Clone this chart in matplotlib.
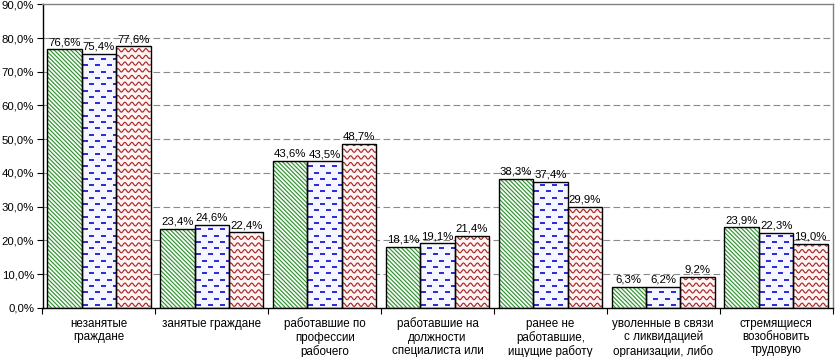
import numpy as np
import matplotlib
matplotlib.use('Agg')
import matplotlib.pyplot as plt
from matplotlib.collections import LineCollection

plt.rcParams['font.family'] = ['Liberation Sans', 'DejaVu Sans']

# данные
categories = ['незанятые\nграждане',
              'занятые граждане',
              'работавшие по\nпрофессии\nрабочего',
              'работавшие на\nдолжности\nспециалиста или',
              'ранее не\nработавшие,\nищущие работу',
              'уволенные в связи\nс ликвидацией\nорганизации, либо',
              'стремящиеся\nвозобновить\nтрудовую']
green_vals = [76.6, 23.4, 43.6, 18.1, 38.3, 6.3, 23.9]
blue_vals = [75.4, 24.6, 43.5, 19.1, 37.4, 6.2, 22.3]
red_vals = [77.6, 22.4, 48.7, 21.4, 29.9, 9.2, 19.0]
yticks = [0, 10, 20, 30, 40, 50, 60, 70, 80, 90]

W, H = 835, 357
fig = plt.figure(figsize=(W / 100, H / 100), dpi=100)
ax = fig.add_axes([42.5 / W, (H - 307.8) / H, 790 / W, 303.5 / H])
ax.set_xlim(-0.5, 6.5)
ax.set_ylim(0, 90)

# размер пикселя в единицах данных
px_x = 7 / 790
px_y = 90 / 303.5

x = np.arange(len(categories))
w = 0.305


def green_pattern(bar):
    x0, h = bar.get_x(), bar.get_height()
    x1 = x0 + bar.get_width()
    run = h / px_y * px_x
    segs = []
    u = x0 - run
    while u < x1:
        segs.append([(u, h), (u + run, 0)])
        u += 4.2 * px_x
    lc = LineCollection(segs, colors='#2f8f2f', linewidths=0.8, zorder=3)
    ax.add_collection(lc)
    lc.set_clip_path(bar)


def blue_pattern(bar):
    x0, h = bar.get_x(), bar.get_height()
    x1 = x0 + bar.get_width()
    segs = []
    yy = 3 * px_y
    row = 0
    while yy < h:
        xx = x0 + (1 + 6 * (row % 2)) * px_x
        while xx < x1:
            segs.append([(xx, yy), (xx + 5 * px_x, yy)])
            xx += 12 * px_x
        yy += 6.3 * px_y
        row += 1
    lc = LineCollection(segs, colors='#1a1ad0', linewidths=1.3, zorder=3)
    ax.add_collection(lc)
    lc.set_clip_path(bar)


def red_pattern(bar):
    x0, h = bar.get_x(), bar.get_height()
    x1 = x0 + bar.get_width()
    xs = np.linspace(x0, x1, 200)
    segs = []
    yy = 3 * px_y
    while yy < h + 3 * px_y:
        ys = yy + 1.6 * px_y * np.sin(2 * np.pi * (xs - x0) / (7 * px_x))
        segs.append(np.column_stack([xs, ys]))
        yy += 6.7 * px_y
    lc = LineCollection(segs, colors='#a82828', linewidths=0.85, zorder=3)
    ax.add_collection(lc)
    lc.set_clip_path(bar)


series = [(green_vals, -w, green_pattern, '#f4fbf4'),
          (blue_vals, 0, blue_pattern, '#f5f6ff'),
          (red_vals, w, red_pattern, '#fff4f4')]

for vals, off, pattern, bg in series:
    bars = ax.bar(x + off, vals, w, color=bg, edgecolor='none', zorder=2)
    for b in bars:
        pattern(b)
    ax.bar(x + off, vals, w, color='none', edgecolor='black', linewidth=1.0, zorder=4)
    for xi, v in zip(x + off, vals):
        ax.annotate(f'{v:.1f}%'.replace('.', ','), (xi, v), xytext=(0, 1.5),
                    textcoords='offset points', ha='center', va='bottom',
                    fontsize=8.2, zorder=5)

# сетка
for yv in yticks[1:-1]:
    ax.axhline(yv, color='#8a8a8a', linewidth=0.8, dashes=(6, 3), zorder=1)

ax.set_yticks(yticks)
ax.set_yticklabels([f'{v:.1f}%'.replace('.', ',') for v in yticks], fontsize=8.2)
ax.set_xticks(x)
ax.set_xticklabels(categories, fontsize=8.4, linespacing=1.15, va='top')
ax.set_xticks(np.arange(-0.5, 7, 1), minor=True)
ax.tick_params(axis='x', which='major', length=0, pad=7)
ax.tick_params(axis='x', which='minor', length=4, width=0.8, direction='out')
ax.tick_params(axis='y', length=4, width=0.8, direction='out', pad=2)

ax.spines['left'].set_color('black')
ax.spines['bottom'].set_color('black')
ax.spines['top'].set_color('#808080')
ax.spines['right'].set_color('#808080')
for s in ax.spines.values():
    s.set_linewidth(1.0)

plt.savefig('out.png', dpi=100)
plt.close()
